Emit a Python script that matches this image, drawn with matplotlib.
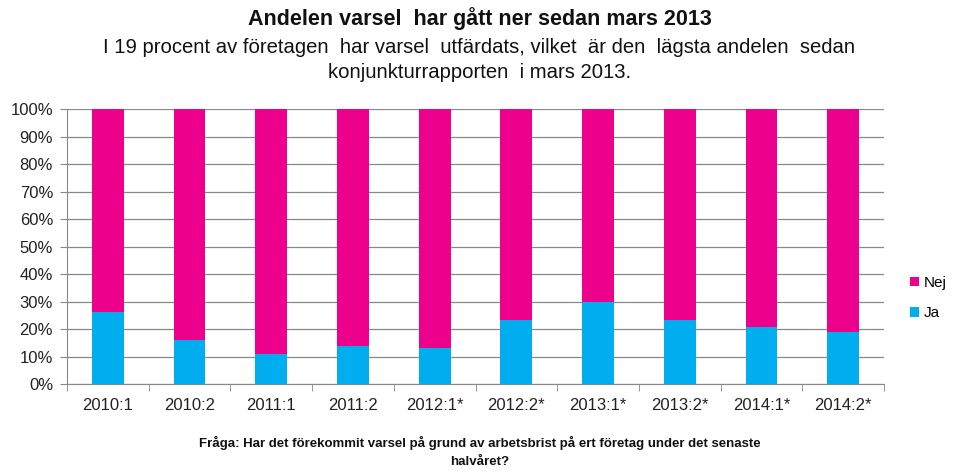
import matplotlib.pyplot as plt
import numpy as np

plt.rcParams['font.family'] = ['Liberation Sans', 'DejaVu Sans']

# data (percent of companies)
perioder = ["2010:1", "2010:2", "2011:1", "2011:2", "2012:1*", "2012:2*",
            "2013:1*", "2013:2*", "2014:1*", "2014:2*"]
ja = [26.3, 16.1, 10.9, 13.8, 13.2, 23.3, 29.8, 23.3, 20.8, 19.1]
nej = [100 - v for v in ja]

fig = plt.figure(figsize=(9.59, 4.73), dpi=100)
ax = fig.add_axes([67 / 959, 0.1875, 817 / 959, 0.582])

x = np.arange(len(perioder))
ax.bar(x, ja, width=0.39, color="#00AEEF", label="Ja", zorder=3)
ax.bar(x, nej, width=0.39, bottom=ja, color="#EC008C", label="Nej", zorder=3)

ax.set_xlim(-0.5, len(perioder) - 0.5)
ax.set_ylim(0, 100)
ax.set_yticks(np.arange(0, 101, 10))
ax.set_yticklabels([f"{v}%" for v in range(0, 101, 10)], fontsize=12, color="#222222")
ax.set_xticks(x)
ax.set_xticklabels(perioder, fontsize=12, color="#222222")
ax.set_xticks(np.arange(-0.5, len(perioder)), minor=True)
ax.tick_params(axis="x", which="major", length=0, pad=10)
ax.tick_params(axis="x", which="minor", length=5, color="#888888")
ax.tick_params(axis="y", length=5, color="#888888", pad=5)
ax.grid(axis="y", color="#888888", linewidth=0.9, zorder=0)
for s in ["top", "right"]:
    ax.spines[s].set_visible(False)
ax.spines["left"].set_color("#888888")
ax.spines["bottom"].set_color("#888888")

h, l = ax.get_legend_handles_labels()
fig.legend(h[::-1], l[::-1], loc="center left", bbox_to_anchor=(0.935, 0.37),
           frameon=False, fontsize=11, handlelength=0.55, handleheight=0.55,
           handletextpad=0.3, labelspacing=1.1)

fig.text(0.5, 0.96, "Andelen varsel  har gått ner sedan mars 2013",
         ha="center", va="center", fontsize=15.5, fontweight="bold", color="#111111")
fig.text(0.5, 0.9, "I 19 procent av företagen  har varsel  utfärdats, vilket  är den  lägsta andelen  sedan",
         ha="center", va="center", fontsize=14.6, color="#111111")
fig.text(0.5, 0.846, "konjunkturrapporten  i mars 2013.",
         ha="center", va="center", fontsize=14.6, color="#111111")
fig.text(0.5, 0.045, "Fråga: Har det förekommit varsel på grund av arbetsbrist på ert företag under det senaste\nhalvåret?",
         ha="center", va="center", fontsize=9.5, fontweight="bold", linespacing=1.65,
         color="#111111")

fig.savefig("out.png", dpi=100)
